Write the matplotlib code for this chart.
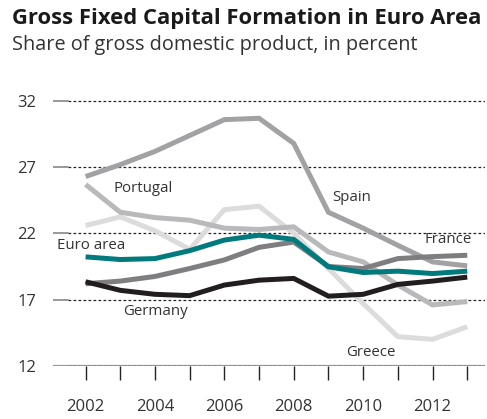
import matplotlib.pyplot as plt
import numpy as np

plt.rcParams['font.family'] = ['Open Sans', 'DejaVu Sans']

years = np.arange(2002, 2014)

spain    = [26.3, 27.2, 28.2, 29.4, 30.6, 30.7, 28.8, 23.6, 22.4, 21.1, 19.85, 19.55]
portugal = [25.7, 23.6, 23.2, 23.0, 22.4, 22.3, 22.5, 20.6, 19.85, 18.1, 16.6, 16.85]
greece   = [22.6, 23.25, 22.2, 20.8, 23.8, 24.06, 22.0, 19.35, 16.7, 14.2, 14.0, 14.95]
france   = [18.2, 18.4, 18.75, 19.35, 20.0, 20.95, 21.35, 19.5, 19.35, 20.1, 20.25, 20.35]
euro     = [20.23, 20.03, 20.1, 20.7, 21.5, 21.87, 21.55, 19.48, 19.05, 19.15, 18.97, 19.15]
germany  = [18.35, 17.7, 17.4, 17.3, 18.1, 18.47, 18.6, 17.26, 17.4, 18.15, 18.4, 18.7]

yticks = [12, 17, 22, 27, 32]
xticks = [2002, 2004, 2006, 2008, 2010, 2012]

# series: (values, colour, label, label x, label y)
series = [
    (greece,   '#dcdcdd', 'Greece',    2009.5,  13.03),
    (portugal, '#b9b9bb', 'Portugal',  2002.79, 25.42),
    (spain,    '#a2a2a5', 'Spain',     2009.1,  24.74),
    (france,   '#7e7e81', 'France',    2011.78, 21.57),
    (euro,     '#007a7c', 'Euro area', 2001.17, 21.1),
    (germany,  '#221e1f', 'Germany',   2003.07, 16.13),
]

fig = plt.figure(figsize=(4.87, 4.19), dpi=100)
ax = fig.add_axes([0.1088, 0.127, 0.887, 0.6475])

for vals, col, name, lx, ly in series:
    ax.plot(years, vals, color=col, lw=3.6, solid_capstyle='butt', solid_joinstyle='miter')
    ax.text(lx, ly, name, fontsize=10.8, color='#333333', va='center', ha='left')

# dotted gridlines, with a short solid stub at the left
for y in yticks:
    ax.axhline(y, xmin=0.035, color='#222222', lw=0.9, ls=(0, (2.2, 1.8)), zorder=0)
    ax.axhline(y, xmin=0, xmax=0.035, color='#888888', lw=1.2, zorder=0)
ax.axhline(12, color='#999999', lw=1.6, zorder=0)
ax.axhline(12, xmin=0.035, color='#222222', lw=0.9, ls=(0, (2.2, 1.8)), zorder=0)

ax.set_xlim(2001.06, 2013.51)
ax.set_ylim(12, 32.5)
ax.set_yticks(yticks)
ax.set_xticks(years, minor=True)
ax.set_xticks(xticks)

for s in ax.spines.values():
    s.set_visible(False)

ax.tick_params(axis='y', length=0, pad=12, labelsize=12, labelcolor='#333333')
ax.tick_params(axis='x', which='both', direction='out', length=10, width=1,
               color='#222222', pad=14, labelsize=12, labelcolor='#333333')

fig.text(0.0246, 0.955, 'Gross Fixed Capital Formation in Euro Area', fontsize=15.8,
         fontweight='bold', color='#1a1a1a', va='center', ha='left')
fig.text(0.0246, 0.892, 'Share of gross domestic product, in percent', fontsize=14.3,
         color='#333333', va='center', ha='left')

fig.savefig('out.png', dpi=100)
